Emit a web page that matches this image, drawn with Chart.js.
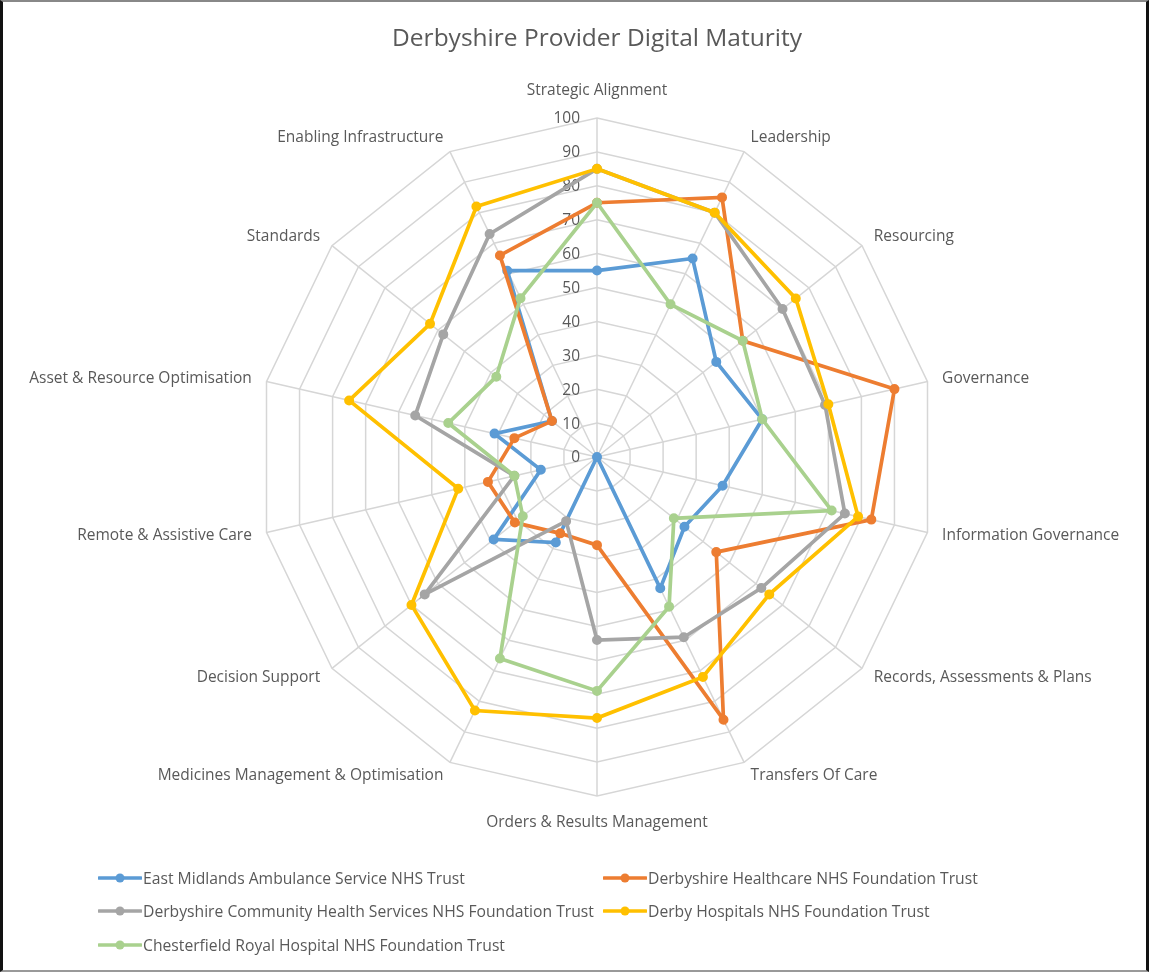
<!DOCTYPE html>
<html>
<head>
<meta charset="utf-8">
<script src="https://cdn.jsdelivr.net/npm/chart.js@4/dist/chart.umd.min.js"></script>
<style>
  html, body { margin: 0; padding: 0; background: #fff; }
  #wrap { position: relative; width: 1149px; height: 972px; }
  #frame {
    position: absolute; left: 0; top: 0; width: 1149px; height: 972px; box-sizing: border-box;
    border-left: 3px solid #111; border-right: 3px solid #111;
    border-top: 2px solid #888; border-bottom: 2px solid #999; pointer-events: none;
  }
  canvas { position: absolute; left: 0; top: 0; }
  #legend {
    position: absolute; left: 98px; top: 861px;
    display: grid; grid-template-columns: 505px 420px; grid-auto-rows: 33.5px;
    font-family: "Open Sans", sans-serif; font-size: 15.7px; color: #595959;
  }
  .item { display: flex; align-items: center; white-space: nowrap; }
  .item svg { margin-right: 1px; }
</style>
</head>
<body>
<div id="wrap">
  <canvas id="radar" width="1149" height="972"></canvas>
  <div id="legend"></div>
  <div id="frame"></div>
</div>
<script>
// Derbyshire provider digital maturity - radar

const categories = [
  'Strategic Alignment', 'Leadership', 'Resourcing', 'Governance',
  'Information Governance', 'Records, Assessments & Plans', 'Transfers Of Care',
  'Orders & Results Management', 'Medicines Management & Optimisation',
  'Decision Support', 'Remote & Assistive Care', 'Asset & Resource Optimisation',
  'Standards', 'Enabling Infrastructure'
];

const seriesNames = [
  'East Midlands Ambulance Service NHS Trust',
  'Derbyshire Healthcare NHS Foundation Trust',
  'Derbyshire Community Health Services NHS Foundation Trust',
  'Derby Hospitals NHS Foundation Trust',
  'Chesterfield Royal Hospital NHS Foundation Trust'
];

const emas  = [55, 65, 45, 50, 38, 33, 43, 0, 28, 39, 17, 31, 17, 61];
const dhcft = [75, 85, 55, 90, 83, 45, 86, 26, 25, 31, 33, 25, 17, 66];
const dchs  = [85, 80, 70, 69, 75, 62, 59, 54, 21, 65, 25, 55, 58, 73];
const dhft  = [85, 80, 75, 70, 79, 65, 72, 77, 83, 70, 42, 75, 63, 82];
const crh   = [75, 50, 55, 50, 71, 29, 49, 69, 66, 28, 25, 45, 38, 52];

const seriesColors = ['#5B9BD5', '#ED7D31', '#A5A5A5', '#FFC000', '#A9D18E'];
const tickMin = 0, tickMax = 100, tickStep = 10;

// plot geometry
const CX = 597, CY = 457, RADIUS = 339;
const TEXT = '#595959';
const FONT = '"Open Sans", sans-serif';

const allSeries = [emas, dhcft, dchs, dhft, crh];

// --- labels drawn Excel-style (ticks left of axis, labels middle-aligned) ---
const excelLabels = {
  id: 'excelLabels',
  beforeDatasetsDraw(chart) {
    const s = chart.scales.r;
    const ctx = chart.ctx;
    ctx.save();
    ctx.fillStyle = TEXT;
    ctx.font = '15.5px ' + FONT;

    ctx.textAlign = 'right';
    ctx.textBaseline = 'middle';
    s.ticks.forEach(t => {
      const d = s.getDistanceFromCenterForValue(t.value);
      ctx.fillText(String(t.value), s.xCenter - 17, s.yCenter - d + 1);
    });

    const n = categories.length;
    categories.forEach((name, i) => {
      const p = s.getPointPosition(i, s.drawingArea + 15);
      const deg = i * 360 / n;
      let y = p.y;
      if (deg === 0) { ctx.textAlign = 'center'; y -= 12; }
      else if (Math.abs(deg - 180) < 0.01) { ctx.textAlign = 'center'; y += 12; }
      else if (deg < 180) ctx.textAlign = 'left';
      else ctx.textAlign = 'right';
      ctx.fillText(name, p.x, y);
    });
    ctx.restore();
  }
};

const ctx = document.getElementById('radar').getContext('2d');
const chart = new Chart(ctx, {
  type: 'radar',
  data: {
    labels: categories,
    datasets: allSeries.map((vals, i) => ({
      label: seriesNames[i],
      data: vals,
      borderColor: seriesColors[i],
      backgroundColor: seriesColors[i],
      pointBackgroundColor: seriesColors[i],
      pointBorderColor: seriesColors[i],
      borderWidth: 3.7,
      pointRadius: 4,
      pointBorderWidth: 2,
      fill: false,
      tension: 0,
      order: allSeries.length - i   // later series on top, like Excel
    }))
  },
  options: {
    responsive: false,
    animation: false,
    layout: { padding: { left: 45 } },
    scales: {
      r: {
        min: tickMin,
        max: tickMax,
        beginAtZero: true,
        ticks: { stepSize: tickStep, display: false },
        grid: { color: '#D6D6D6', lineWidth: 1.5, circular: false },
        angleLines: { color: '#D6D6D6', lineWidth: 1.5 },
        pointLabels: { display: false },
        afterFit(scale) {
          scale.xCenter = CX;
          scale.yCenter = CY;
          scale.drawingArea = RADIUS;
        }
      }
    },
    plugins: {
      legend: { display: false },
      tooltip: { enabled: false },
      title: {
        display: true,
        text: 'Derbyshire Provider Digital Maturity',
        color: TEXT,
        font: { family: FONT, size: 24.5, weight: 'normal' },
        padding: { top: 24, bottom: 10 }
      }
    }
  },
  plugins: [excelLabels]
});

// --- legend (two columns, like the Excel original) ---
function renderLegend() {
  const box = document.getElementById('legend');
  box.innerHTML = seriesNames.map((name, i) => `
    <div class="item">
      <svg width="44" height="12"><line x1="1" y1="6" x2="43" y2="6" stroke="${seriesColors[i]}" stroke-width="3.5" stroke-linecap="round"/>
      <circle cx="22" cy="6" r="4.5" fill="${seriesColors[i]}"/></svg>
      <span>${name}</span>
    </div>`).join('');
}
renderLegend();
</script>
</body>
</html>
